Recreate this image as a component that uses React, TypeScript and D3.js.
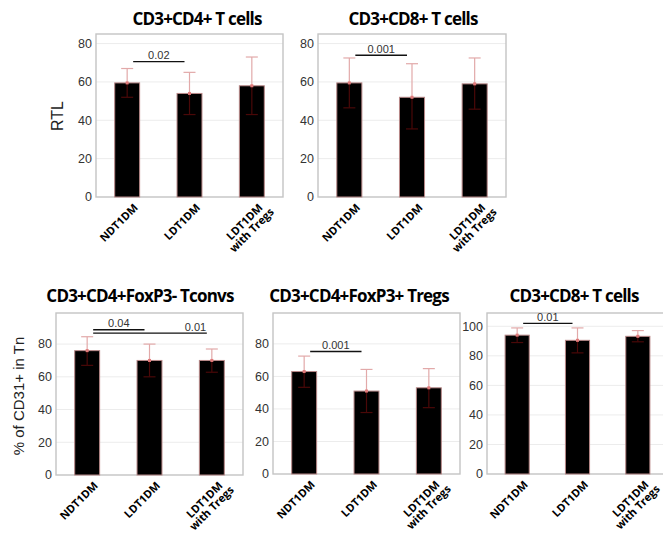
import { useEffect, useRef } from 'react';
import * as d3 from 'd3';

// x categories (second line after \n)
const groups = ['NDT1DM', 'LDT1DM', 'LDT1DM\nwith Tregs'];

const titles = [
    'CD3+CD4+ T cells',
    'CD3+CD8+ T cells',
    'CD3+CD4+FoxP3- Tconvs',
    'CD3+CD4+FoxP3+ Tregs',
    'CD3+CD8+ T cells',
];

// RTL, CD4
const rtlCd4Mean = [59.5, 54, 58];
const rtlCd4Hi = [67, 65, 73];
const rtlCd4Lo = [52, 43, 43];
// RTL, CD8
const rtlCd8Mean = [59.5, 52, 59];
const rtlCd8Hi = [72.5, 69.5, 72.5];
const rtlCd8Lo = [46.5, 35.5, 45.8];
// % CD31+, Tconvs
const tconvMean = [76, 70, 70];
const tconvHi = [84.5, 80, 77];
const tconvLo = [67, 60, 62.8];
// % CD31+, Tregs
const tregMean = [63, 51, 53];
const tregHi = [72.5, 64.3, 64.8];
const tregLo = [53.3, 37.8, 40.8];
// % CD31+, CD8
const cd8Mean = [94, 90.5, 93.2];
const cd8Hi = [98.9, 98.9, 97.1];
const cd8Lo = [89, 82, 89.5];

// significance brackets: [from, to, y value, label, label position along line]
type Sig = [number, number, number, string, number];
const rtlCd4Sig: Sig[] = [[0, 1, 70.6, '0.02', 0.5]];
const rtlCd8Sig: Sig[] = [[0, 1, 73.9, '0.001', 0.5]];
const tconvSig: Sig[] = [
    [0, 1, 88.8, '0.04', 0.5],
    [0, 2, 86.7, '0.01', 0.9],
];
const tregSig: Sig[] = [[0, 1, 75.3, '0.001', 0.5]];
const cd8Sig: Sig[] = [[0, 1, 102, '0.01', 0.5]];

const ticks80 = [0, 20, 40, 60, 80];
const ticks100 = [0, 20, 40, 60, 80, 100];

const panels = [
    { title: titles[0], mean: rtlCd4Mean, hi: rtlCd4Hi, lo: rtlCd4Lo, sig: rtlCd4Sig, yMax: 85, ticks: ticks80, x: 96, y: 34, w: 187, h: 163, tx: 197, ty: 25 },
    { title: titles[1], mean: rtlCd8Mean, hi: rtlCd8Hi, lo: rtlCd8Lo, sig: rtlCd8Sig, yMax: 85, ticks: ticks80, x: 318, y: 34, w: 188, h: 163, tx: 413, ty: 25 },
    { title: titles[2], mean: tconvMean, hi: tconvHi, lo: tconvLo, sig: tconvSig, yMax: 99, ticks: ticks80, x: 56, y: 313, w: 187, h: 162, tx: 140, ty: 302 },
    { title: titles[3], mean: tregMean, hi: tregHi, lo: tregLo, sig: tregSig, yMax: 99, ticks: ticks80, x: 273, y: 313, w: 187, h: 161, tx: 359, ty: 302 },
    { title: titles[4], mean: cd8Mean, hi: cd8Hi, lo: cd8Lo, sig: cd8Sig, yMax: 109, ticks: ticks100, x: 487, y: 313, w: 181, h: 161, tx: 574, ty: 302 },
];

const axisFont = '"Liberation Sans", Arial, sans-serif';
const boldFont = '"Open Sans", "DejaVu Sans", sans-serif';

export default function App() {
    const ref = useRef<SVGSVGElement | null>(null);

    useEffect(() => {
        const svg = d3.select(ref.current);
        svg.selectAll('*').remove();

        svg.append('rect').attr('width', 663).attr('height', 534).attr('fill', '#fff');

        panels.forEach((p) => {
            const x = d3.scaleBand<string>()
                .domain(groups)
                .range([p.x, p.x + p.w])
                .paddingInner(0.6)
                .paddingOuter(0.3);
            const y = d3.scaleLinear().domain([0, p.yMax]).range([p.y + p.h, p.y]);
            const cx = (g: string) => x(g)! + x.bandwidth() / 2;

            const g = svg.append('g');

            // title
            g.append('text')
                .attr('x', p.tx)
                .attr('y', p.ty)
                .attr('text-anchor', 'middle')
                .attr('font-family', boldFont)
                .attr('font-weight', 'bold')
                .attr('font-size', '17px')
                .attr('letter-spacing', '-0.8px')
                .attr('fill', '#000')
                .text(p.title);

            // gridlines
            g.selectAll('.grid')
                .data(p.ticks.filter((t) => t > 0))
                .enter()
                .append('line')
                .attr('x1', p.x)
                .attr('x2', p.x + p.w)
                .attr('y1', (d) => y(d))
                .attr('y2', (d) => y(d))
                .attr('stroke', '#ececec')
                .attr('stroke-width', 1);

            // frame
            g.append('rect')
                .attr('x', p.x)
                .attr('y', p.y)
                .attr('width', p.w)
                .attr('height', p.h)
                .attr('fill', 'none')
                .attr('stroke', '#c4c4c4')
                .attr('stroke-width', 1.4);

            // y tick labels
            g.selectAll('.tick')
                .data(p.ticks)
                .enter()
                .append('text')
                .attr('x', p.x - 4)
                .attr('y', (d) => y(d))
                .attr('dy', '0.35em')
                .attr('text-anchor', 'end')
                .attr('font-family', axisFont)
                .attr('font-size', '12.5px')
                .attr('fill', '#333')
                .text((d) => d);

            // bars
            g.selectAll('.bar')
                .data(groups)
                .enter()
                .append('rect')
                .attr('x', (d) => x(d)!)
                .attr('y', (_, i) => y(p.mean[i]))
                .attr('width', x.bandwidth())
                .attr('height', (_, i) => y(0) - y(p.mean[i]))
                .attr('fill', '#000')
                .attr('stroke', '#b88888')
                .attr('stroke-width', 1);

            // error bars: upper (pink) and lower (dark red over the bar)
            const eb = g.selectAll('.err').data(groups).enter().append('g');
            eb.append('line')
                .attr('x1', (d) => cx(d))
                .attr('x2', (d) => cx(d))
                .attr('y1', (_, i) => y(p.mean[i]))
                .attr('y2', (_, i) => y(p.hi[i]))
                .attr('stroke', '#e2a9a9')
                .attr('stroke-width', 1.2);
            eb.append('line')
                .attr('x1', (d) => cx(d) - 6)
                .attr('x2', (d) => cx(d) + 6)
                .attr('y1', (_, i) => y(p.hi[i]))
                .attr('y2', (_, i) => y(p.hi[i]))
                .attr('stroke', '#e2a9a9')
                .attr('stroke-width', 1.2);
            eb.append('line')
                .attr('x1', (d) => cx(d))
                .attr('x2', (d) => cx(d))
                .attr('y1', (_, i) => y(p.mean[i]))
                .attr('y2', (_, i) => y(p.lo[i]))
                .attr('stroke', '#4a0808')
                .attr('stroke-width', 1.2);
            eb.append('line')
                .attr('x1', (d) => cx(d) - 6)
                .attr('x2', (d) => cx(d) + 6)
                .attr('y1', (_, i) => y(p.lo[i]))
                .attr('y2', (_, i) => y(p.lo[i]))
                .attr('stroke', '#4a0808')
                .attr('stroke-width', 1.2);
            eb.append('rect')
                .attr('x', (d) => cx(d) - 1.5)
                .attr('y', (_, i) => y(p.mean[i]) - 1.5)
                .attr('width', 3)
                .attr('height', 3)
                .attr('fill', '#e07a7a');

            // significance lines
            p.sig.forEach(([a, b, v, label, pos]) => {
                const x1 = cx(groups[a]) + 6;
                const x2 = cx(groups[b]) - 5;
                g.append('line')
                    .attr('x1', x1)
                    .attr('x2', x2)
                    .attr('y1', y(v))
                    .attr('y2', y(v))
                    .attr('stroke', '#111')
                    .attr('stroke-width', 1.4);
                g.append('text')
                    .attr('x', x1 + (x2 - x1) * pos)
                    .attr('y', y(v) - 2.5)
                    .attr('text-anchor', 'middle')
                    .attr('font-family', axisFont)
                    .attr('font-size', '11px')
                    .attr('fill', '#333')
                    .text(label);
            });

            // rotated x labels
            groups.forEach((grp) => {
                const lines = grp.split('\n');
                const t = g.append('text')
                    .attr('transform', `translate(${cx(grp) + 6},${p.y + p.h + 6}) rotate(-45)`)
                    .attr('text-anchor', 'end')
                    .attr('font-family', boldFont)
                    .attr('font-weight', 'bold')
                    .attr('font-size', '11px')
                    .attr('fill', '#000');
                lines.forEach((ln, i) => {
                    t.append('tspan')
                        .attr('x', i === 0 ? 0 : 5)
                        .attr('dy', i === 0 ? '0.7em' : '1.0em')
                        .text(ln);
                });
            });
        });

        // y axis titles
        svg.append('text')
            .attr('transform', 'translate(63,116) rotate(-90)')
            .attr('text-anchor', 'middle')
            .attr('font-family', axisFont)
            .attr('font-size', '16px')
            .attr('fill', '#222')
            .text('RTL');
        svg.append('text')
            .attr('transform', 'translate(24,396) rotate(-90)')
            .attr('text-anchor', 'middle')
            .attr('font-family', axisFont)
            .attr('font-size', '15px')
            .attr('fill', '#222')
            .text('% of CD31+ in Tn');
    }, []);

    return (
        <svg
            ref={ref}
            width={663}
            height={534}
            style={{ position: 'absolute', left: 0, top: 0 }}
        />
    );
}
